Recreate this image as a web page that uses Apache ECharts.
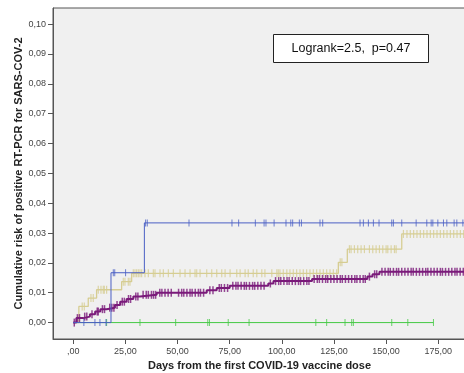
<!DOCTYPE html>
<html>
<head>
<meta charset="utf-8">
<script src="https://cdn.jsdelivr.net/npm/echarts@6/dist/echarts.min.js"></script>
<style>
  html, body { margin: 0; padding: 0; background: #fff; }
  #chart { width: 464px; height: 373px; }
</style>
</head>
<body>
<div id="chart"></div>
<script>
// tick positions
const xTicks = [0, 25, 50, 75, 100, 125, 150, 175];
const yTicks = [0, 0.01, 0.02, 0.03, 0.04, 0.05, 0.06, 0.07, 0.08, 0.09, 0.1];

// Kaplan-Meier steps: [day, cumulative risk from that day on]
const blueSteps = [[0, 0], [18.1, 0.0167], [34.1, 0.0334], [188.3, 0.0334]];
const blueCensor = [5.1, 10.4, 12.8, 15.7, 19.2, 19.9, 25.1, 34.7, 35.5, 55.5, 76.1, 79.3,
  87.3, 91.5, 92.4, 96.3, 102, 104.3, 105.2, 108.4, 109.4, 118.3, 119.6, 137.5, 139.1,
  141.5, 143.9, 146.6, 152.7, 153.5, 157.5, 164.4, 169.5, 171.6, 172.4, 174.8, 177.5,
  179.1, 182.6, 183.9, 186.8];

const greenSteps = [[0, 0], [172.7, 0]];
const greenCensor = [16, 32, 49.1, 64.5, 65.3, 74.3, 84.3, 116.3, 121.5, 130.3, 133.5,
  134.3, 152.7, 160.4, 172.7];

const khakiSteps = [[0, 0], [2.7, 0.0054], [7.2, 0.0082], [11.2, 0.011], [23.2, 0.0137],
  [28.0, 0.0165], [127.1, 0.0202], [131.4, 0.0246], [157.5, 0.0297], [188.3, 0.0297]];
const khakiCensor = [4.3, 5.3, 8.5, 9.6, 12, 13.3, 14.4, 14.9, 16, 24, 24.8, 26.4, 27.2,
  28.8, 29.6, 30.4, 31.2, 32, 32.8, 34.4, 36, 38.4, 39.2, 41.6, 43.2, 45.6, 48, 51.2,
  53.6, 56, 58.4, 59.2, 60.8, 64, 66.4, 68.8, 71.2, 72.8, 75.2, 78.4, 80, 82.4, 83.9,
  86.3, 88, 90.4, 91.9, 95.2, 97.6, 98.3, 99.1, 100.7, 102.4, 103.9, 105.5, 107.1, 108.7,
  110.3, 111.9, 113.5, 115.1, 116.7, 118.3, 119.9, 121.5, 123.1, 124.7, 126.3, 128,
  128.8, 132.4, 133.2, 134.8, 136.4, 138, 139.6, 142, 143.6, 145.2, 146.8, 148.4, 150,
  150.8, 152.4, 154, 154.8, 158.3, 160, 161.6, 163.2, 164.8, 166.4, 168, 169.6, 171.2,
  172.8, 174.4, 176, 177.6, 179.2, 180.8, 182.4, 184, 185.6, 187.2];

const purpleSteps = [[0, 0], [1.5, 0.0015], [4.8, 0.002], [8, 0.0028], [10.5, 0.0037],
  [13, 0.0045], [16, 0.005], [20, 0.0059], [22.5, 0.007], [25.6, 0.0079], [28.8, 0.0087],
  [32, 0.0093], [40, 0.0100], [64, 0.0108], [68.8, 0.0116], [75, 0.0123], [93.5, 0.0131],
  [96, 0.0139], [114.5, 0.0146], [141, 0.0154], [143.5, 0.0162], [146.8, 0.017],
  [188.3, 0.017]];
const purpleCensor = [0.5, 2, 3, 5.5, 6.5, 9, 11.5, 12, 14, 15, 17.5, 18.5, 19.5, 21, 23.5,
  24.5, 26.5, 27.5, 30, 31, 33.5, 35, 36, 37.5, 38.5, 39.5, 41.5, 42.5, 44, 45.5, 47, 50.5,
  52, 53, 54.5, 56, 57, 58.5, 60, 61, 62.5, 65.5, 67, 70, 71, 72.5, 74, 76.5, 78, 79, 80.5,
  82, 83, 84.5, 86, 87, 88.5, 90, 91.5, 94.5, 97, 98.5, 99.5, 101, 102.5, 103.5, 105, 106.5,
  108, 109, 110.5, 112, 113, 115.5, 117, 118, 119.5, 121, 122, 123.5, 125, 126.5, 128, 129,
  130.5, 132, 133.5, 135, 136, 137.5, 139, 140, 142, 144.5, 145.5, 148, 149.5, 151, 152,
  153.5, 155, 156, 157.5, 159, 160.5, 162, 163, 164.5, 166, 167.5, 169, 170, 171.5, 173,
  174.5, 176, 177, 178.5, 180, 181.5, 183, 184, 185.5, 187];

// value of a step curve at time t
function riskAt(steps, t) {
  let v = 0;
  for (const s of steps) { if (s[0] <= t) v = s[1]; }
  return v;
}

const groups = [
  { steps: greenSteps, censor: greenCensor, color: '#45c945', width: 1, mark: [1, 7] },
  { steps: khakiSteps, censor: khakiCensor, color: '#d6cd92', width: 1.3, mark: [1.2, 8] },
  { steps: purpleSteps, censor: purpleCensor, color: '#7a1a7a', width: 2, mark: [1.5, 8] },
  { steps: blueSteps, censor: blueCensor, color: '#4a5fc4', width: 1, mark: [1, 7] }
];

const series = [];
groups.forEach((g, i) => {
  series.push({
    type: 'line',
    step: 'end',
    data: g.steps,
    showSymbol: false,
    silent: true,
    z: 2 + i,
    lineStyle: { color: g.color, width: g.width }
  });
  series.push({
    type: 'scatter',
    data: g.censor.map(t => [t, riskAt(g.steps, t)]),
    symbol: 'rect',
    symbolSize: g.mark,
    silent: true,
    z: 2 + i,
    itemStyle: { color: g.color }
  });
});

const labelFont = { fontFamily: 'Liberation Sans', fontSize: 9, color: '#444' };

const chart = echarts.init(document.getElementById('chart'));
chart.setOption({
  animation: false,
  backgroundColor: '#ffffff',
  grid: {
    left: 53, top: 8, right: -2, bottom: 34,
    outerBoundsMode: 'none',
    containLabel: false,
    show: true,
    backgroundColor: '#f0f0f0',
    borderColor: '#555',
    borderWidth: 1
  },
  xAxis: {
    type: 'value',
    min: -9.7,
    max: 188.3,
    name: 'Days from the first COVID-19 vaccine dose',
    nameLocation: 'middle',
    nameMoveOverlap: false,
    nameGap: 21,
    nameTextStyle: { fontFamily: 'Liberation Sans', fontSize: 11, fontWeight: 'bold', color: '#222' },
    axisLine: { show: true, onZero: false, lineStyle: { color: '#555' } },
    axisTick: { show: true, customValues: xTicks, length: 5, lineStyle: { color: '#555' } },
    axisLabel: {
      customValues: xTicks, margin: 8, ...labelFont,
      formatter: v => v === 0 ? ',00' : v.toFixed(2).replace('.', ',')
    },
    splitLine: { show: false }
  },
  yAxis: {
    type: 'value',
    min: -0.0055,
    max: 0.1054,
    name: 'Cumulative risk of positive RT-PCR for SARS-COV-2',
    nameLocation: 'middle',
    nameMoveOverlap: false,
    nameGap: 29,
    nameTextStyle: { fontFamily: 'Liberation Sans', fontSize: 11, fontWeight: 'bold', color: '#222' },
    axisLine: { show: true, onZero: false, lineStyle: { color: '#555' } },
    axisTick: { show: true, customValues: yTicks, length: 5, lineStyle: { color: '#555' } },
    axisLabel: {
      customValues: yTicks, margin: 7, ...labelFont,
      formatter: v => v.toFixed(2).replace('.', ',')
    },
    splitLine: { show: false }
  },
  graphic: [{
    type: 'group',
    left: 273, top: 34,
    children: [
      { type: 'rect', shape: { x: 0, y: 0, width: 155, height: 28 },
        style: { fill: '#fff', stroke: '#222', lineWidth: 1 } },
      { type: 'text', x: 77.5, y: 14,
        style: { text: 'Logrank=2.5,  p=0.47', fill: '#111', align: 'center', verticalAlign: 'middle',
          font: '12.5px "Liberation Sans"' } }
    ]
  }],
  series: series
});
</script>
</body>
</html>
